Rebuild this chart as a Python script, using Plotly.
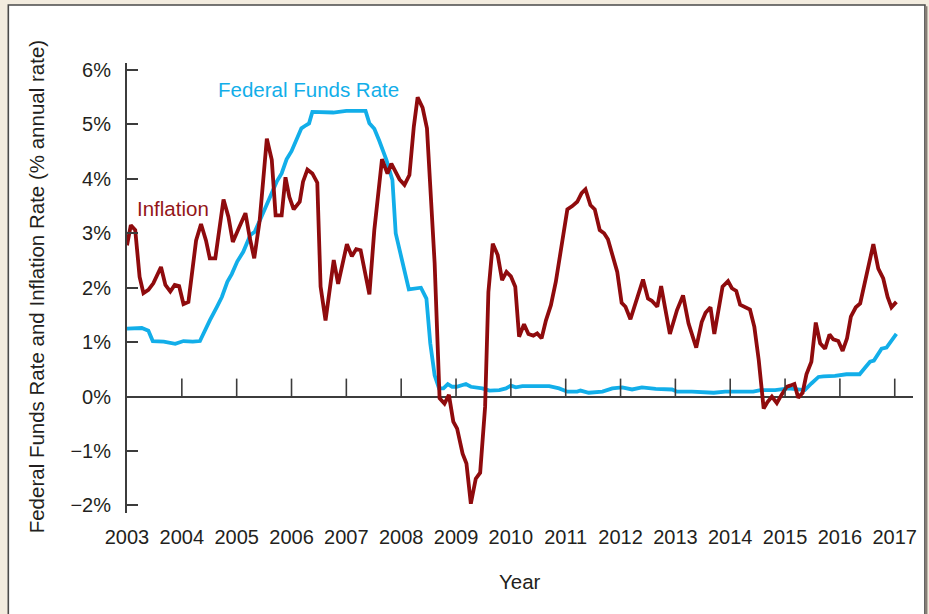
import plotly.graph_objects as go

# Inflation rate (% annual rate), sampled along the series
inflation_year = [
    2003.00, 2003.07, 2003.15, 2003.23, 2003.30, 2003.39, 2003.48, 2003.62, 2003.70, 2003.79,
    2003.87, 2003.95, 2004.03, 2004.12, 2004.26, 2004.35, 2004.44, 2004.51, 2004.61, 2004.76,
    2004.85, 2004.93, 2005.05, 2005.16, 2005.24, 2005.32, 2005.42, 2005.55, 2005.64, 2005.71,
    2005.82, 2005.89, 2005.96, 2006.04, 2006.15, 2006.21, 2006.29, 2006.38, 2006.47, 2006.53,
    2006.62, 2006.77, 2006.85, 2007.01, 2007.10, 2007.18, 2007.26, 2007.42, 2007.51, 2007.65,
    2007.75, 2007.82, 2007.97, 2008.06, 2008.15, 2008.23, 2008.30, 2008.39, 2008.47, 2008.61,
    2008.70, 2008.79, 2008.87, 2008.95, 2009.02, 2009.12, 2009.19, 2009.27, 2009.36, 2009.44,
    2009.53, 2009.59, 2009.67, 2009.76, 2009.84, 2009.92, 2010.00, 2010.08, 2010.15, 2010.24,
    2010.32, 2010.41, 2010.48, 2010.56, 2010.64, 2010.73, 2010.82, 2010.93, 2011.03, 2011.12,
    2011.21, 2011.29, 2011.36, 2011.45, 2011.53, 2011.62, 2011.70, 2011.77, 2011.94, 2012.02,
    2012.09, 2012.18, 2012.30, 2012.41, 2012.50, 2012.57, 2012.67, 2012.74, 2012.82, 2012.90,
    2013.03, 2013.14, 2013.24, 2013.38, 2013.48, 2013.55, 2013.64, 2013.71, 2013.86, 2013.96,
    2014.03, 2014.11, 2014.18, 2014.27, 2014.36, 2014.44, 2014.52, 2014.61, 2014.68, 2014.76,
    2014.85, 2014.94, 2015.03, 2015.09, 2015.17, 2015.24, 2015.32, 2015.39, 2015.48, 2015.56,
    2015.64, 2015.73, 2015.81, 2015.88, 2015.97, 2016.05, 2016.13, 2016.20, 2016.29, 2016.37,
    2016.47, 2016.55, 2016.61, 2016.70, 2016.79, 2016.87, 2016.94, 2017.03,
]
inflation_rate = [
    2.78, 3.15, 3.06, 2.20, 1.90, 1.96, 2.08, 2.38, 2.05, 1.93,
    2.05, 2.03, 1.70, 1.74, 2.87, 3.17, 2.87, 2.54, 2.54, 3.62,
    3.30, 2.84, 3.12, 3.37, 2.91, 2.54, 3.24, 4.74, 4.35, 3.33,
    3.33, 4.03, 3.67, 3.44, 3.58, 3.95, 4.17, 4.10, 3.93, 2.02,
    1.40, 2.51, 2.07, 2.80, 2.58, 2.71, 2.69, 1.88, 3.06, 4.36,
    4.10, 4.28, 3.99, 3.89, 4.07, 4.96, 5.50, 5.31, 4.93, 2.45,
    -0.03, -0.13, 0.03, -0.46, -0.59, -1.05, -1.23, -1.97, -1.51, -1.40,
    -0.19, 1.92, 2.81, 2.60, 2.14, 2.29, 2.21, 2.02, 1.10, 1.33,
    1.15, 1.12, 1.16, 1.07, 1.40, 1.68, 2.11, 2.81, 3.44, 3.50,
    3.58, 3.74, 3.81, 3.52, 3.44, 3.06, 3.00, 2.89, 2.29, 1.72,
    1.65, 1.42, 1.80, 2.15, 1.80, 1.76, 1.65, 2.03, 1.59, 1.15,
    1.59, 1.86, 1.34, 0.90, 1.37, 1.54, 1.64, 1.15, 2.02, 2.12,
    1.99, 1.94, 1.69, 1.64, 1.60, 1.28, 0.67, -0.22, -0.10, 0.00,
    -0.12, 0.04, 0.18, 0.20, 0.23, -0.02, 0.07, 0.41, 0.64, 1.36,
    0.98, 0.88, 1.14, 1.05, 1.02, 0.84, 1.07, 1.47, 1.64, 1.71,
    2.17, 2.57, 2.80, 2.35, 2.17, 1.83, 1.64, 1.74,
]

# Effective federal funds rate (% annual rate)
fed_funds_year = [
    2003.00, 2003.27, 2003.39, 2003.47, 2003.67, 2003.88, 2004.03, 2004.20, 2004.33, 2004.42,
    2004.51, 2004.64, 2004.73, 2004.83, 2004.91, 2005.01, 2005.12, 2005.25, 2005.33, 2005.45,
    2005.55, 2005.64, 2005.73, 2005.82, 2005.91, 2006.00, 2006.08, 2006.18, 2006.27, 2006.32,
    2006.38, 2006.76, 2007.00, 2007.35, 2007.42, 2007.51, 2007.60, 2007.73, 2007.84, 2007.90,
    2008.00, 2008.14, 2008.36, 2008.46, 2008.53, 2008.61, 2008.69, 2008.77, 2008.85, 2008.93,
    2009.01, 2009.09, 2009.18, 2009.27, 2009.48, 2009.61, 2009.79, 2009.91, 2010.00, 2010.09,
    2010.21, 2010.70, 2010.88, 2011.03, 2011.21, 2011.27, 2011.42, 2011.67, 2011.85, 2012.03,
    2012.21, 2012.39, 2012.64, 2012.94, 2013.03, 2013.30, 2013.55, 2013.70, 2013.91, 2014.42,
    2014.55, 2014.82, 2015.06, 2015.36, 2015.48, 2015.61, 2015.70, 2015.91, 2016.12, 2016.36,
    2016.45, 2016.55, 2016.62, 2016.76, 2016.85, 2017.03,
]
fed_funds_rate = [
    1.25, 1.26, 1.21, 1.02, 1.01, 0.97, 1.02, 1.01, 1.02, 1.22,
    1.40, 1.65, 1.83, 2.11, 2.25, 2.48, 2.66, 2.97, 3.03, 3.30,
    3.52, 3.74, 3.95, 4.10, 4.36, 4.51, 4.68, 4.93, 4.99, 5.02,
    5.23, 5.22, 5.25, 5.25, 5.02, 4.92, 4.70, 4.35, 3.98, 3.00,
    2.57, 1.97, 2.00, 1.80, 0.98, 0.39, 0.15, 0.15, 0.23, 0.18,
    0.18, 0.21, 0.23, 0.18, 0.15, 0.11, 0.12, 0.15, 0.20, 0.17,
    0.19, 0.19, 0.15, 0.09, 0.09, 0.11, 0.07, 0.09, 0.15, 0.17,
    0.13, 0.17, 0.14, 0.13, 0.09, 0.09, 0.08, 0.07, 0.09, 0.09,
    0.12, 0.12, 0.15, 0.12, 0.24, 0.36, 0.37, 0.38, 0.41, 0.41,
    0.52, 0.64, 0.66, 0.88, 0.90, 1.15,
]

year_ticks = list(range(2003, 2018))
pct_ticks = [-2, -1, 0, 1, 2, 3, 4, 5, 6]
pct_labels = ["\u22122%", "\u22121%", "0%", "1%", "2%", "3%", "4%", "5%", "6%"]

RED = "#8f0b0d"
BLUE = "#12aee9"
INK = "#231f20"
AXIS = "#3c3c3c"
FONT = "Liberation Sans, Arial, Helvetica, sans-serif"

fig = go.Figure()
fig.add_trace(go.Scatter(
    x=fed_funds_year, y=fed_funds_rate, mode="lines",
    line=dict(color=BLUE, width=3.8), name="Federal Funds Rate", hoverinfo="skip",
))
fig.add_trace(go.Scatter(
    x=inflation_year, y=inflation_rate, mode="lines",
    line=dict(color=RED, width=3.8), name="Inflation", hoverinfo="skip",
))

# Year ticks rising from the zero line
shapes = []
for yr in year_ticks[1:]:
    shapes.append(dict(type="line", xref="x", yref="y", x0=yr, x1=yr, y0=0, y1=0.33,
                       line=dict(color=AXIS, width=1.6), layer="above"))

# White card with a dark rule and a soft shadow on its right edge
shapes.append(dict(type="rect", xref="paper", yref="paper",
                   x0=-0.151, x1=1.0152, y0=-0.26, y1=1.1289,
                   fillcolor="white", line=dict(color="#4a4a4a", width=1.6), layer="below"))
shapes.append(dict(type="line", xref="paper", yref="paper",
                   x0=1.0168, x1=1.0168, y0=-0.26, y1=1.126,
                   line=dict(color="#857e76", width=2.5), layer="below"))

annotations = [
    dict(text="Federal Funds Rate", x=2006.31, y=5.65, xref="x", yref="y",
         showarrow=False, font=dict(color=BLUE, size=20.5, family=FONT)),
    dict(text="Inflation", x=2003.83, y=3.46, xref="x", yref="y",
         showarrow=False, font=dict(color="#931518", size=20.5, family=FONT)),
    dict(text="Year", x=0.5, y=-0.153, xref="paper", yref="paper",
         showarrow=False, yanchor="middle", font=dict(color=INK, size=20.5, family=FONT)),
    dict(text="Federal Funds Rate and Inflation Rate (% annual rate)",
         x=-0.1155, y=0.502, xref="paper", yref="paper", textangle=-90,
         showarrow=False, xanchor="center", yanchor="middle",
         font=dict(color=INK, size=20.5, family=FONT)),
]

fig.update_layout(
    width=929, height=614,
    margin=dict(l=127, r=14, t=63, b=101, pad=0),
    paper_bgcolor="#f3ecdf",
    plot_bgcolor="white",
    showlegend=False,
    font=dict(family=FONT, color=INK, size=20),
    shapes=shapes,
    annotations=annotations,
)
fig.update_xaxes(
    range=[2003, 2017.333], tickvals=year_ticks, ticktext=[str(y) for y in year_ticks],
    showline=False, showgrid=False, zeroline=False, ticks="",
    ticklabelstandoff=10, tickfont=dict(size=20, color=INK, family=FONT),
)
fig.update_yaxes(
    range=[-2.14, 6.13], tickvals=pct_ticks, ticktext=pct_labels,
    showline=True, linecolor=AXIS, linewidth=2,
    ticks="inside", ticklen=11, tickwidth=2, tickcolor=AXIS,
    showgrid=False, zeroline=True, zerolinecolor=AXIS, zerolinewidth=2,
    ticklabelstandoff=10, tickfont=dict(size=20, color=INK, family=FONT),
)

fig.write_html("out.html")
